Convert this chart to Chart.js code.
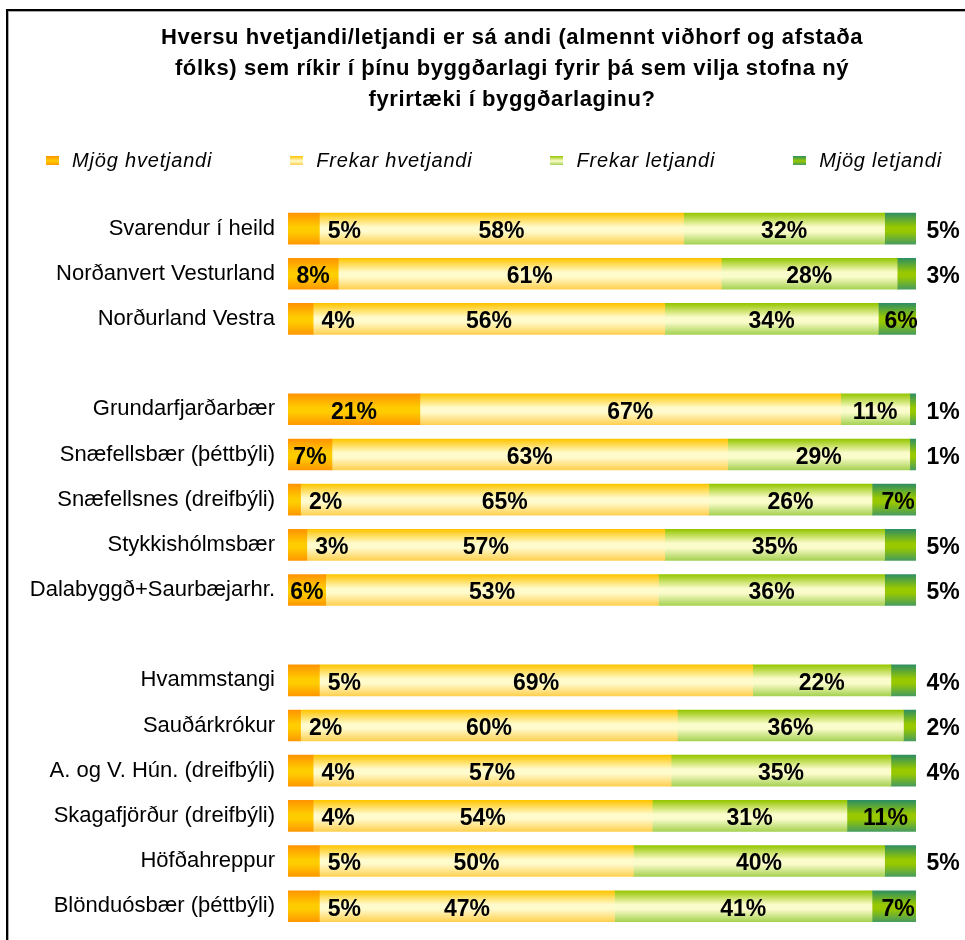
<!DOCTYPE html>
<html lang="is">
<head>
<meta charset="UTF-8">
<title>Hversu hvetjandi/letjandi</title>
<script src="https://cdn.jsdelivr.net/npm/chart.js"></script>
<style>
    body { margin: 0; background: #fff; font-family: "Liberation Sans", Arial, sans-serif; }
    #wrap { position: relative; width: 965px; height: 940px; overflow: hidden; }
    #chart { position: absolute; left: 0; top: 0; }
    #frame { position: absolute; left: 6px; top: 9px; width: 1000px; height: 1000px;
             border-left: 2px solid #000; border-top: 2px solid #000; box-shadow: inset 1px 1px 0 #aaa; }
    #title { position: absolute; top: 21px; left: 59px; right: 0; text-align: center;
             font-weight: bold; font-size: 22px; letter-spacing: 0.6px; line-height: 31px; color: #000; }
    #legend { position: absolute; top: 148px; left: 0; width: 988px; display: flex; justify-content: center;
              font-style: italic; font-size: 20px; letter-spacing: 0.8px; line-height: 24px; color: #000; }
    #legend .item { display: flex; align-items: center; margin-left: 78px; white-space: nowrap; }
    #legend .item:first-child { margin-left: 0; }
    #legend .box { width: 13px; height: 9px; margin-right: 13px; }
</style>
</head>
<body>
<div id="wrap">
    <canvas id="chart" width="965" height="955"></canvas>
    <div id="frame"></div>
    <div id="title">Hversu hvetjandi/letjandi er sá andi (almennt viðhorf og afstaða<br>fólks) sem ríkir í þínu byggðarlagi fyrir þá sem vilja stofna ný<br>fyrirtæki í byggðarlaginu?</div>
    <div id="legend"></div>
</div>

<script>
    // Gögn (tómar línur skilja hópana að)
    const categories = [
        'Svarendur í heild', 'Norðanvert Vesturland', 'Norðurland Vestra', '',
        'Grundarfjarðarbær', 'Snæfellsbær (þéttbýli)', 'Snæfellsnes (dreifbýli)', 'Stykkishólmsbær', 'Dalabyggð+Saurbæjarhr.', '',
        'Hvammstangi', 'Sauðárkrókur', 'A. og V. Hún. (dreifbýli)', 'Skagafjörður (dreifbýli)', 'Höfðahreppur', 'Blönduósbær (þéttbýli)'
    ];
    const seriesNames = ['Mjög hvetjandi', 'Frekar hvetjandi', 'Frekar letjandi', 'Mjög letjandi'];
    const mjogHvetjandi   = [5, 8, 4, null, 21, 7, 2, 3, 6, null, 5, 2, 4, 4, 5, 5];
    const frekarHvetjandi = [58, 61, 56, null, 67, 63, 65, 57, 53, null, 69, 60, 57, 54, 50, 47];
    const frekarLetjandi  = [32, 28, 34, null, 11, 29, 26, 35, 36, null, 22, 36, 35, 31, 40, 41];
    const mjogLetjandi    = [5, 3, 6, null, 1, 1, 7, 5, 5, null, 4, 2, 4, 11, 5, 7];

    // litir: efst, miðja, neðst
    const colorStops = [
        ['#FF9400', '#FFCC00', '#FF9800'],
        ['#FFC400', '#FFFBCC', '#FFD050'],
        ['#95C600', '#FBFCCB', '#A6D252'],
        ['#2F8F60', '#98C800', '#479C5C']
    ];
    const BAR_H = 31;

    function barGradient(stops) {
        return function(c) {
            const chart = c.chart;
            const y = chart.scales && chart.scales.y;
            if (c.type !== 'data' || !chart.chartArea || !y) return stops[1];
            const yc = y.getPixelForValue(c.dataIndex);
            const g = chart.ctx.createLinearGradient(0, yc - BAR_H / 2, 0, yc + BAR_H / 2);
            g.addColorStop(0, stops[0]);
            g.addColorStop(0.45, stops[1]);
            g.addColorStop(0.6, stops[1]);
            g.addColorStop(1, stops[2]);
            return g;
        };
    }

    // prósentutölur á súlurnar
    const valueLabels = {
        id: 'valueLabels',
        afterDatasetsDraw(chart) {
            const ctx = chart.ctx;
            const right = chart.chartArea.right;
            ctx.save();
            ctx.font = 'bold 23px "Liberation Sans", Arial, sans-serif';
            ctx.fillStyle = '#000';
            ctx.textAlign = 'center';
            ctx.textBaseline = 'middle';
            chart.data.datasets.forEach((ds, i) => {
                chart.getDatasetMeta(i).data.forEach((bar, j) => {
                    const v = ds.data[j];
                    if (v == null) return;
                    const mid = (bar.base + bar.x) / 2;
                    let x = mid;
                    if (i === 0 && v <= 5) x = bar.x + 25;
                    if (i === 3) x = v <= 5 ? right + 27 : mid + 4;
                    ctx.fillText(v + '%', x, bar.y + 3);
                });
            });
            ctx.restore();
        }
    };

    const values = [mjogHvetjandi, frekarHvetjandi, frekarLetjandi, mjogLetjandi];
    const datasets = seriesNames.map((name, i) => ({
        label: name,
        data: values[i],
        backgroundColor: barGradient(colorStops[i]),
        borderWidth: 0,
        barThickness: BAR_H
    }));

    const chart = new Chart(document.getElementById('chart').getContext('2d'), {
        type: 'bar',
        data: { labels: categories, datasets: datasets },
        options: {
            indexAxis: 'y',
            responsive: false,
            animation: false,
            layout: { padding: { top: 206, bottom: 0, left: 0, right: 49 } },
            scales: {
                x: { stacked: true, min: 0, max: 100, display: false },
                y: {
                    stacked: true,
                    grid: { display: false, drawTicks: false },
                    border: { display: false },
                    ticks: {
                        autoSkip: false,
                        padding: 13,
                        color: '#000',
                        font: { family: '"Liberation Sans", Arial, sans-serif', size: 22 }
                    },
                    afterFit: function(scale) { scale.width = 288; }
                }
            },
            plugins: {
                legend: { display: false },
                title: { display: false },
                tooltip: { enabled: false }
            }
        },
        plugins: [valueLabels]
    });

    // skýringar
    const legend = document.getElementById('legend');
    chart.data.datasets.forEach((ds, i) => {
        const item = document.createElement('div');
        item.className = 'item';
        const box = document.createElement('span');
        box.className = 'box';
        box.style.background = 'linear-gradient(' + colorStops[i][0] + ', ' + colorStops[i][1] + ' 55%, ' + colorStops[i][2] + ')';
        item.appendChild(box);
        item.appendChild(document.createTextNode(ds.label));
        legend.appendChild(item);
    });
</script>
</body>
</html>
